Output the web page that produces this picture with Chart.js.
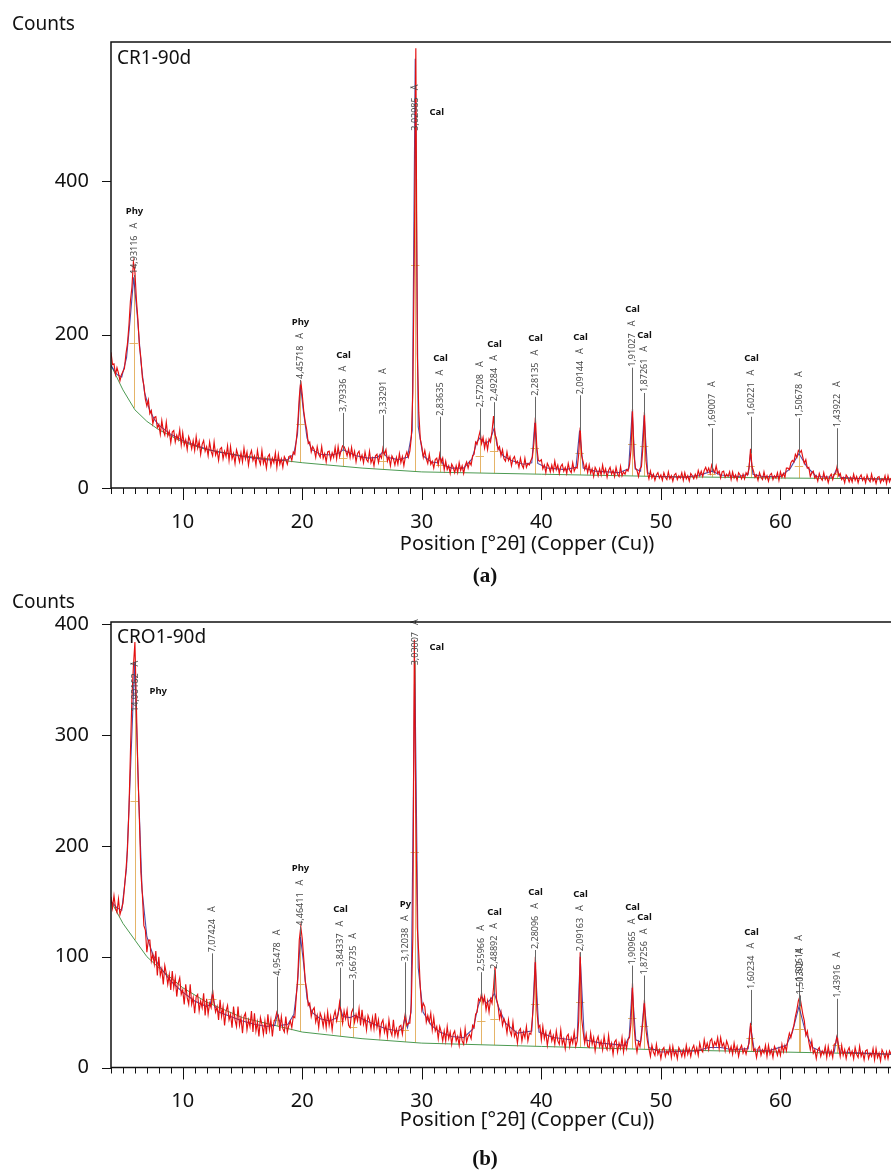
<!DOCTYPE html>
<html>
<head>
<meta charset="utf-8">
<script src="https://cdn.jsdelivr.net/npm/chart.js@4.4.1/dist/chart.umd.min.js"></script>
<style>
  html, body { margin: 0; padding: 0; background: #fff; }
  canvas { display: block; }
</style>
</head>
<body>
<canvas id="chartA" width="891" height="590"></canvas>
<canvas id="chartB" width="891" height="585"></canvas>
<script>
// scan grid (°2θ) shared by both patterns
const scanStart = 4;
const scanStep = 0.125;

// axis tick labels
const xTickLabels = [10, 20, 30, 40, 50, 60];
const yTickLabelsA = [0, 200, 400];
const yTickLabelsB = [0, 100, 200, 300, 400];

// (a) CR1-90d measured counts, 4.000 .. 69.250 °2θ, one row per degree
const countsA = [
  177, 161, 162, 148, 157, 150, 140, 148,
  152, 156, 175, 188, 212, 244, 262, 295,
  282, 246, 220, 186, 170, 144, 134, 116,
  107, 115, 97, 101, 84, 92, 93, 79,
  83, 70, 88, 75, 69, 86, 68, 74,
  59, 73, 75, 60, 69, 63, 76, 56,
  72, 56, 63, 50, 67, 61, 51, 62,
  49, 67, 52, 61, 44, 57, 62, 48,
  54, 42, 60, 48, 42, 60, 43, 49,
  36, 51, 53, 38, 48, 41, 55, 36,
  54, 38, 45, 32, 50, 43, 34, 46,
  34, 52, 38, 47, 30, 43, 49, 36,
  42, 30, 49, 37, 31, 49, 32, 39,
  26, 41, 44, 29, 39, 33, 46, 27,
  44, 31, 38, 27, 41, 37, 31, 41,
  42, 36, 47, 44, 62, 84, 118, 140,
  122, 100, 86, 76, 58, 60, 47, 54,
  50, 40, 54, 44, 40, 54, 39, 45,
  34, 47, 48, 37, 46, 40, 53, 38,
  54, 41, 49, 55, 54, 49, 42, 51,
  40, 53, 40, 48, 34, 45, 48, 37,
  43, 33, 47, 37, 34, 48, 33, 39,
  29, 42, 44, 33, 43, 39, 52, 44,
  50, 35, 41, 29, 42, 38, 30, 40,
  31, 45, 33, 41, 29, 41, 47, 40,
  48, 66, 125, 310, 574, 175, 98, 64,
  54, 40, 49, 38, 32, 44, 31, 35,
  26, 37, 39, 30, 44, 33, 39, 24,
  35, 24, 29, 19, 31, 27, 20, 29,
  20, 33, 23, 29, 19, 29, 34, 26,
  34, 30, 42, 44, 60, 57, 66, 74,
  58, 66, 52, 62, 50, 64, 60, 74,
  94, 70, 64, 50, 54, 42, 50, 38,
  35, 47, 36, 41, 29, 38, 41, 32,
  35, 27, 39, 30, 26, 39, 27, 32,
  30, 36, 40, 58, 92, 52, 36, 35,
  37, 25, 30, 20, 32, 28, 21, 30,
  22, 35, 24, 30, 19, 28, 31, 22,
  27, 19, 32, 23, 20, 33, 22, 27,
  26, 44, 79, 42, 34, 24, 31, 20,
  30, 19, 25, 15, 27, 23, 16, 25,
  17, 30, 19, 25, 14, 23, 27, 18,
  23, 15, 27, 18, 15, 28, 16, 21,
  18, 24, 22, 30, 50, 103, 42, 26,
  23, 15, 25, 28, 54, 99, 36, 20,
  12, 22, 13, 18, 10, 17, 20, 13,
  17, 10, 20, 14, 11, 21, 12, 16,
  9, 17, 19, 11, 16, 13, 20, 10,
  20, 12, 16, 9, 19, 16, 12, 18,
  13, 23, 16, 22, 15, 23, 27, 21,
  26, 19, 30, 24, 20, 29, 19, 22,
  13, 21, 22, 14, 18, 15, 21, 11,
  21, 13, 17, 10, 20, 17, 12, 18,
  12, 20, 17, 26, 51, 28, 22, 14,
  17, 10, 20, 14, 11, 21, 12, 16,
  9, 17, 19, 11, 16, 13, 20, 10,
  21, 14, 19, 14, 26, 26, 24, 33,
  36, 34, 44, 40, 49, 46, 49, 40,
  32, 37, 26, 27, 15, 20, 22, 13,
  16, 9, 19, 13, 10, 20, 11, 15,
  7, 15, 18, 11, 18, 19, 29, 16,
  19, 11, 14, 7, 17, 14, 8, 14,
  8, 18, 10, 15, 7, 14, 17, 10,
  14, 7, 17, 11, 8, 18, 9, 13,
  6, 14, 15, 7, 12, 9, 16, 6,
  16, 8, 13
];

// (a) fitted profile and background
const fitA = [
  [4,160],[4.5,148],[4.9,145],[5.3,170],[5.6,220],[5.9,275],[6.2,225],[6.5,165],[6.8,125],[7.2,103],
  [7.6,90],[8,82],[9,70],[10,62],[11,56],[12,51],[13,47],[14,44],[15,41],[16,39],[17,37],[18,36],
  [18.8,37],[19.3,45],[19.6,70],[19.85,135],[20.1,100],[20.4,65],[20.8,50],[21.5,44],[22.5,43],
  [23.1,46],[23.43,50],[23.8,47],[24.5,42],[25.5,39],[26.3,40],[26.73,47],[27.1,40],[28,37],
  [28.8,40],[29.2,75],[29.45,560],[29.7,80],[30.1,42],[30.8,34],[31.3,33],[31.55,40],[31.8,30],
  [32.5,26],[33.5,26],[34.2,38],[34.6,60],[34.85,65],[35.3,58],[35.7,62],[36.05,78],[36.3,55],
  [36.8,42],[37.5,36],[38.5,31],[39.2,33],[39.45,85],[39.7,32],[40.5,26],[42,24],[42.9,27],
  [43.2,75],[43.5,26],[44.5,22],[46.5,20],[47.3,25],[47.6,100],[47.85,25],[48.3,22],[48.6,95],
  [48.9,20],[49.5,15],[52,14],[53.3,17],[54.25,22],[55,17],[56.5,15],[57.3,18],[57.5,45],[57.7,18],
  [58.5,15],[60,15],[60.8,25],[61.55,45],[62.2,28],[63,15],[64.4,14],[64.7,25],[65,14],[67,12],[69.25,11]
];
const backgroundA = [
  [4,160],[5,128],[6,102],[7,87],[8,76],[10,60],[12,50],[15,42],[20,33],[25,26],
  [30,21],[40,18],[50,15],[60,13],[69.25,12]
];

// (a) peak list
const peakPosA = [5.9, 19.85, 23.43, 26.73, 29.45, 31.55, 34.85, 36.05, 39.45, 43.2, 47.6, 48.6, 54.25, 57.5, 61.55, 64.7];
const peakDA = ['14,93116','4,45718','3,79336','3,33291','3,02985','2,83635','2,57208','2,49284','2,28135','2,09144','1,91027','1,87261','1,69007','1,60221','1,50678','1,43922'];
const phaseA = ['Phy','Phy','Cal','','Cal','Cal','','Cal','Cal','Cal','Cal','Cal','','Cal','',''];
const peakTopA = [275, 135, 50, 47, 560, 40, 65, 78, 85, 75, 100, 95, 22, 45, 45, 25];
const labelBaseA = [278, 141, 98, 95, 465, 93, 104, 112, 119, 121, 157, 124, 78, 93, 91, 78];

// (b) CRO1-90d measured counts, 4.000 .. 69.250 °2θ, one row per degree
const countsB = [
  154, 144, 155, 144, 140, 152, 138, 143,
  148, 162, 178, 196, 232, 284, 334, 362,
  384, 326, 268, 224, 176, 156, 128, 124,
  104, 115, 115, 96, 102, 93, 105, 83,
  100, 83, 89, 75, 92, 85, 75, 84,
  70, 87, 72, 81, 64, 76, 81, 66,
  70, 57, 75, 63, 57, 75, 57, 63,
  49, 64, 66, 51, 60, 54, 67, 47,
  62, 48, 58, 54, 70, 58, 50, 55,
  43, 61, 46, 55, 38, 51, 56, 43,
  48, 36, 55, 43, 37, 55, 38, 45,
  31, 46, 49, 34, 43, 37, 51, 32,
  49, 33, 41, 28, 45, 39, 30, 42,
  30, 48, 34, 43, 28, 41, 44, 50,
  47, 33, 46, 35, 32, 46, 32, 38,
  42, 36, 46, 45, 64, 82, 115, 127,
  116, 98, 78, 70, 56, 58, 46, 52,
  54, 41, 47, 36, 49, 45, 37, 47,
  36, 50, 38, 46, 34, 46, 51, 42,
  48, 59, 50, 40, 51, 44, 52, 38,
  36, 50, 53, 41, 48, 42, 53, 38,
  52, 39, 45, 34, 47, 43, 35, 45,
  35, 49, 36, 43, 29, 40, 43, 32,
  38, 28, 43, 33, 29, 43, 29, 35,
  28, 37, 38, 30, 40, 49, 38, 40,
  40, 58, 118, 386, 232, 126, 102, 72,
  52, 58, 55, 41, 47, 41, 49, 34,
  45, 33, 37, 26, 37, 32, 24, 33,
  24, 37, 26, 32, 21, 30, 33, 24,
  28, 20, 33, 24, 21, 35, 23, 28,
  30, 26, 38, 36, 48, 50, 62, 60,
  67, 58, 64, 52, 60, 50, 62, 58,
  72, 91, 62, 56, 44, 50, 38, 44,
  40, 31, 43, 33, 29, 41, 28, 32,
  22, 33, 35, 24, 32, 27, 37, 24,
  31, 30, 44, 62, 100, 52, 36, 38,
  25, 37, 26, 32, 20, 29, 33, 24,
  29, 21, 33, 24, 21, 34, 21, 26,
  17, 28, 30, 19, 27, 22, 32, 19,
  24, 42, 104, 44, 32, 22, 30, 19,
  18, 31, 21, 27, 15, 24, 28, 19,
  24, 16, 28, 19, 16, 29, 17, 22,
  12, 23, 25, 14, 22, 17, 27, 14,
  24, 17, 25, 27, 40, 76, 38, 22,
  14, 23, 19, 28, 42, 61, 34, 24,
  17, 10, 20, 14, 11, 21, 12, 16,
  8, 16, 18, 10, 15, 12, 19, 9,
  19, 11, 15, 8, 18, 15, 10, 16,
  10, 20, 12, 17, 10, 17, 20, 13,
  18, 11, 22, 16, 14, 25, 17, 22,
  16, 24, 26, 18, 23, 20, 27, 17,
  27, 19, 22, 15, 24, 20, 14, 19,
  12, 22, 14, 19, 10, 17, 20, 13,
  17, 12, 18, 22, 40, 26, 15, 17,
  9, 17, 19, 11, 16, 13, 20, 10,
  20, 12, 16, 9, 19, 16, 11, 17,
  11, 21, 14, 20, 15, 25, 31, 27,
  33, 38, 46, 52, 60, 64, 56, 48,
  42, 29, 33, 23, 16, 24, 13, 16,
  8, 16, 18, 10, 15, 12, 19, 9,
  19, 11, 15, 9, 21, 22, 29, 18,
  10, 20, 11, 16, 8, 15, 18, 11,
  15, 8, 18, 12, 9, 19, 10, 14,
  7, 15, 16, 8, 13, 10, 17, 7,
  17, 9, 13, 6, 16, 13, 8, 14,
  8, 15, 12
];

const fitB = [
  [4,150],[4.5,144],[4.9,142],[5.3,180],[5.6,260],[5.98,366],[6.3,250],[6.6,160],[7,118],[7.5,102],
  [8,92],[9,78],[10,68],[11,60],[12,55],[12.3,57],[12.48,66],[12.7,55],[13,50],[14,46],[15,42],
  [16,39],[17,37],[17.7,38],[17.92,48],[18.2,38],[18.8,39],[19.3,48],[19.6,75],[19.85,118],
  [20.1,95],[20.4,62],[20.8,50],[21.5,44],[22.3,42],[22.9,45],[23.14,55],[23.4,46],[24,45],
  [24.4,47],[25,44],[26,39],[27,35],[28,33],[28.4,35],[28.58,45],[28.8,36],[29.1,50],[29.41,366],
  [29.7,90],[30.1,50],[30.8,38],[31.5,32],[32.5,28],[33.5,27],[34.3,35],[34.7,55],[35,64],
  [35.4,58],[35.8,62],[36.08,67],[36.4,55],[37,40],[38,31],[39.2,33],[39.48,95],[39.8,32],[41,27],
  [42.5,25],[43,27],[43.25,100],[43.6,25],[45,22],[47,20],[47.35,28],[47.6,72],[47.9,25],[48.3,23],
  [48.6,58],[49,18],[50,14],[53,15],[54,18],[55,18],[56,16],[57.3,17],[57.5,38],[57.8,16],[59,15],
  [60.5,20],[61,32],[61.55,55],[62.1,32],[62.7,18],[63.5,14],[64.5,14],[64.7,27],[65,14],[67,13],[69.25,12]
];
const backgroundB = [
  [4,150],[5,130],[6,115],[7,100],[8,90],[10,72],[12,59],[15,45],[20,32],[25,26],
  [30,22],[40,19],[50,16],[60,14],[69.25,12]
];

const peakPosB = [5.98, 12.48, 17.92, 19.85, 23.14, 24.25, 28.58, 29.41, 34.98, 36.08, 39.48, 43.25, 47.6, 48.6, 57.5, 61.52, 61.62, 64.7];
const peakDB = ['14,90162','7,07424','4,95478','4,46411','3,84337','3,66735','3,12038','3,03007','2,55966','2,48892','2,28096','2,09163','1,90965','1,87256','1,60234','1,50614','1,50392','1,43916'];
const phaseB = ['Phy','','','Phy','Cal','','Py','Cal','','Cal','Cal','Cal','Cal','Cal','Cal','','',''];
const peakTopB = [366, 66, 48, 118, 55, 47, 45, 366, 64, 67, 95, 100, 72, 58, 38, 55, 55, 27];
const labelBaseB = [320, 103, 82, 127, 90, 79, 95, 362, 86, 88, 106, 104, 92, 83, 70, 77, 65, 62];

Chart.defaults.font.family = '"Noto Sans", "Open Sans", sans-serif';
Chart.defaults.color = '#111';

function toXY(counts) {
  return counts.map((c, i) => ({ x: scanStart + i * scanStep, y: c }));
}
function pairs(arr) {
  return arr.map(([x, y]) => ({ x, y }));
}
function bgAt(bg, v) {
  for (let i = 1; i < bg.length; i++) {
    if (v <= bg[i][0]) {
      const [x0, y0] = bg[i - 1], [x1, y1] = bg[i];
      return y0 + (y1 - y0) * (v - x0) / (x1 - x0);
    }
  }
  return bg[bg.length - 1][1];
}

const xrdDecor = {
  id: 'xrdDecor',
  beforeDatasetsDraw(chart, args, opts) {
    const { ctx, scales: { x, y } } = chart;
    ctx.save();
    ctx.strokeStyle = 'rgba(226,172,88,0.9)';
    ctx.lineWidth = 1;
    opts.pos.forEach((p, i) => {
      const base = bgAt(opts.bg, p);
      const top = opts.tops[i];
      const px = Math.round(x.getPixelForValue(p)) + 0.5;
      const half = Math.round(y.getPixelForValue((top + base) / 2)) + 0.5;
      ctx.beginPath();
      ctx.moveTo(px, y.getPixelForValue(base));
      ctx.lineTo(px, y.getPixelForValue(top));
      ctx.moveTo(x.getPixelForValue(p - 0.35), half);
      ctx.lineTo(x.getPixelForValue(p + 0.35), half);
      ctx.stroke();
    });
    ctx.restore();
  },
  afterDatasetsDraw(chart, args, opts) {
    const { ctx, scales: { x, y } } = chart;
    ctx.save();
    opts.pos.forEach((p, i) => {
      const px = Math.round(x.getPixelForValue(p)) + 0.5;
      const yb = y.getPixelForValue(opts.base[i]);
      const yt = y.getPixelForValue(opts.tops[i]);
      if (yt > yb + 1) {
        ctx.strokeStyle = '#666';
        ctx.lineWidth = 1;
        ctx.beginPath();
        ctx.moveTo(px, yb);
        ctx.lineTo(px, yt);
        ctx.stroke();
      }
      // d-spacing label, rotated
      const txt = opts.d[i] + '   Å';
      ctx.font = '9px "Noto Sans"';
      const w = ctx.measureText(txt).width;
      ctx.save();
      ctx.translate(px, yb);
      ctx.rotate(-Math.PI / 2);
      ctx.fillStyle = '#4a4a4a';
      ctx.textAlign = 'left';
      ctx.textBaseline = 'middle';
      ctx.fillText(txt, 1, 0);
      ctx.restore();
      // phase name
      if (opts.phase[i]) {
        ctx.font = 'bold 9.5px "Noto Sans"';
        ctx.fillStyle = '#111';
        ctx.textBaseline = 'middle';
        if (opts.beside.includes(i)) {
          ctx.textAlign = 'left';
          ctx.fillText(opts.phase[i], px + 14, yb - w / 2 + 4);
        } else {
          ctx.textAlign = 'center';
          ctx.fillText(opts.phase[i], px, yb - w - 12);
        }
      }
    });
    ctx.restore();
  },
  afterDraw(chart, args, opts) {
    const { ctx, chartArea: a, scales: { x, y } } = chart;
    ctx.save();
    ctx.strokeStyle = '#111';
    ctx.lineWidth = 1.5;
    ctx.beginPath();
    ctx.moveTo(a.right, a.top);
    ctx.lineTo(a.left, a.top);
    ctx.lineTo(a.left, a.bottom);
    ctx.lineTo(a.right, a.bottom);
    ctx.stroke();
    // tick marks: one per degree, longer at labelled ones
    ctx.lineWidth = 1;
    ctx.beginPath();
    for (let v = Math.ceil(x.min); v <= x.max; v++) {
      const px = Math.round(x.getPixelForValue(v)) + 0.5;
      ctx.moveTo(px, a.bottom);
      ctx.lineTo(px, a.bottom + (v % 10 === 0 ? 12 : 6));
    }
    y.ticks.forEach(t => {
      const py = Math.round(y.getPixelForValue(t.value)) + 0.5;
      ctx.moveTo(a.left - 9, py);
      ctx.lineTo(a.left, py);
    });
    ctx.stroke();
    // texts
    opts.texts.forEach(t => {
      ctx.font = t.font;
      ctx.fillStyle = '#111';
      ctx.textAlign = t.align;
      ctx.textBaseline = 'middle';
      ctx.fillText(t.text, t.x, t.y);
    });
    ctx.restore();
  }
};

function makeChart(id, cfg) {
  return new Chart(document.getElementById(id), {
    type: 'line',
    data: {
      datasets: [
        { data: pairs(cfg.bg), borderColor: '#4c9a52', borderWidth: 1, order: 3 },
        { data: toXY(cfg.counts), borderColor: '#e41010', borderWidth: 1.15, order: 1 },
        { data: pairs(cfg.fit), borderColor: 'rgba(48,44,150,0.85)', borderWidth: 1.1, order: 2 }
      ]
    },
    options: {
      responsive: false,
      animation: false,
      devicePixelRatio: 1,
      parsing: false,
      elements: { point: { radius: 0 }, line: { tension: 0 } },
      layout: { padding: { top: cfg.top, right: 0, left: 0, bottom: 0 } },
      plugins: {
        legend: { display: false },
        tooltip: { enabled: false },
        xrdDecor: {
          pos: cfg.pos, d: cfg.d, phase: cfg.phase, tops: cfg.tops, base: cfg.base,
          bg: cfg.bg, beside: cfg.beside, texts: cfg.texts
        }
      },
      scales: {
        x: {
          type: 'linear', min: 4, max: 69.25,
          grid: { display: false }, border: { display: false },
          ticks: { autoSkip: false, maxRotation: 0, font: { size: 20 }, padding: 14 },
          afterBuildTicks(scale) { scale.ticks = xTickLabels.map(v => ({ value: v })); },
          afterFit(scale) { scale.height = cfg.xHeight; }
        },
        y: {
          type: 'linear', min: 0, max: cfg.yMax,
          grid: { display: false }, border: { display: false },
          ticks: { font: { size: 20 }, padding: 14 },
          afterBuildTicks(scale) { scale.ticks = cfg.yTicks.map(v => ({ value: v })); },
          afterFit(scale) { scale.width = 111; }
        }
      }
    },
    plugins: [xrdDecor]
  });
}

makeChart('chartA', {
  counts: countsA, fit: fitA, bg: backgroundA,
  pos: peakPosA, d: peakDA, phase: phaseA, tops: peakTopA, base: labelBaseA, beside: [4],
  top: 42, xHeight: 102, yMax: 582, yTicks: yTickLabelsA,
  texts: [
    { text: 'Counts', x: 12, y: 25, font: '19px "Noto Sans"', align: 'left' },
    { text: 'CR1-90d', x: 117, y: 59, font: '19px "Noto Sans"', align: 'left' },
    { text: 'Position [°2θ] (Copper (Cu))', x: 527, y: 544, font: '20px "Noto Sans"', align: 'center' },
    { text: '(a)', x: 485, y: 577, font: 'bold 21px "Liberation Serif"', align: 'center' }
  ]
});

makeChart('chartB', {
  counts: countsB, fit: fitB, bg: backgroundB,
  pos: peakPosB, d: peakDB, phase: phaseB, tops: peakTopB, base: labelBaseB, beside: [0, 7],
  top: 32, xHeight: 107.5, yMax: 402, yTicks: yTickLabelsB,
  texts: [
    { text: 'Counts', x: 12, y: 13, font: '19px "Noto Sans"', align: 'left' },
    { text: 'CRO1-90d', x: 117, y: 48, font: '19px "Noto Sans"', align: 'left' },
    { text: 'Position [°2θ] (Copper (Cu))', x: 527, y: 530, font: '20px "Noto Sans"', align: 'center' },
    { text: '(b)', x: 485, y: 570, font: 'bold 21px "Liberation Serif"', align: 'center' }
  ]
});
</script>
</body>
</html>
